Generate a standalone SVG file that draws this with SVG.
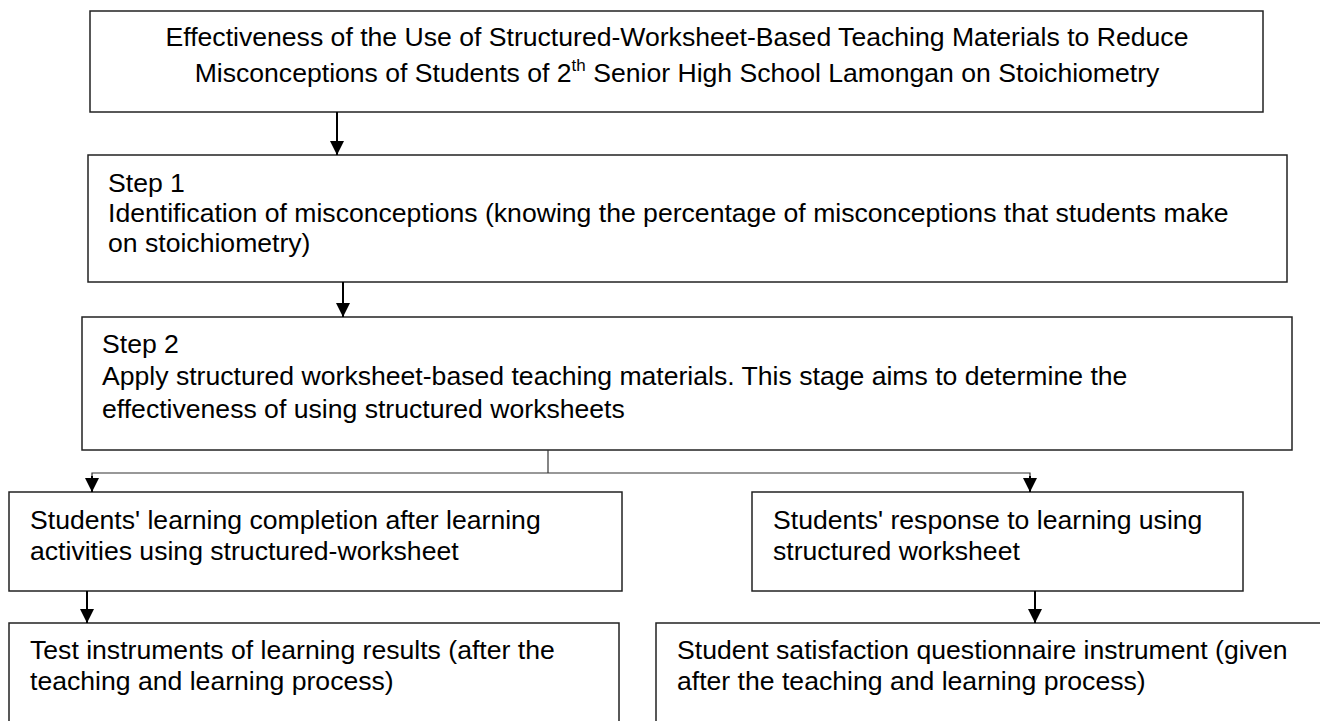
<svg xmlns="http://www.w3.org/2000/svg" width="1320" height="721" viewBox="0 0 1320 721">
<defs>
<style>
.box{fill:#fff;stroke:#222;stroke-width:1.5}
.t{font-family:"Liberation Sans",Arial,sans-serif;font-size:26.6px;fill:#000}
.c{fill:none;stroke:#000;stroke-width:2}
.b{fill:none;stroke:#333;stroke-width:1.2}
</style>
<marker id="ah" markerUnits="userSpaceOnUse" markerWidth="16" markerHeight="16" viewBox="0 0 16 16" refX="15" refY="8" orient="auto">
<path d="M1,1 L15,8 L1,15 Z" fill="#000"/>
</marker>
</defs>
<rect width="1320" height="721" fill="#fff"/>
<g id="title">
<rect class="box" x="90" y="11" width="1173" height="101"/>
<text class="t" x="677" y="46" text-anchor="middle">Effectiveness of the Use of Structured-Worksheet-Based Teaching Materials to Reduce</text>
<text class="t" x="677" y="82" text-anchor="middle">Misconceptions of Students of 2<tspan font-size="17" dy="-11">th</tspan><tspan dy="11"> Senior High School Lamongan on Stoichiometry</tspan></text>
</g>
<g id="step1">
<rect class="box" x="88" y="155" width="1199" height="127"/>
<text class="t" x="108" y="192">Step 1</text>
<text class="t" x="108" y="222">Identification of misconceptions (knowing the percentage of misconceptions that students make</text>
<text class="t" x="108" y="252">on stoichiometry)</text>
</g>
<g id="step2">
<rect class="box" x="82" y="317" width="1210" height="133"/>
<text class="t" x="102" y="353">Step 2</text>
<text class="t" x="102" y="385">Apply structured worksheet-based teaching materials. This stage aims to determine the</text>
<text class="t" x="102" y="418">effectiveness of using structured worksheets</text>
</g>
<g id="completion">
<rect class="box" x="9" y="492" width="613" height="99"/>
<text class="t" x="30" y="529">Students' learning completion after learning</text>
<text class="t" x="30" y="560">activities using structured-worksheet</text>
</g>
<g id="response">
<rect class="box" x="752" y="492" width="491" height="99"/>
<text class="t" x="773" y="529">Students' response to learning using</text>
<text class="t" x="773" y="560">structured worksheet</text>
</g>
<g id="test">
<rect class="box" x="9" y="623" width="610" height="130"/>
<text class="t" x="30" y="659">Test instruments of learning results (after the</text>
<text class="t" x="30" y="690">teaching and learning process)</text>
</g>
<g id="questionnaire">
<rect class="box" x="656" y="623" width="700" height="130"/>
<text class="t" x="677" y="659">Student satisfaction questionnaire instrument (given</text>
<text class="t" x="677" y="690">after the teaching and learning process)</text>
</g>
<g id="connectors">
<line class="c" x1="337" y1="112" x2="337" y2="155" marker-end="url(#ah)"/>
<line class="c" x1="343" y1="282" x2="343" y2="317" marker-end="url(#ah)"/>
<polyline class="b" points="548,450 548,473"/>
<polyline class="b" points="92,492 92,473 1030,473 1030,492"/>
<line class="c" x1="92" y1="476" x2="92" y2="492" marker-end="url(#ah)"/>
<line class="c" x1="1030" y1="476" x2="1030" y2="492" marker-end="url(#ah)"/>
<line class="c" x1="87" y1="591" x2="87" y2="623" marker-end="url(#ah)"/>
<line class="c" x1="1035" y1="591" x2="1035" y2="623" marker-end="url(#ah)"/>
</g>
</svg>
